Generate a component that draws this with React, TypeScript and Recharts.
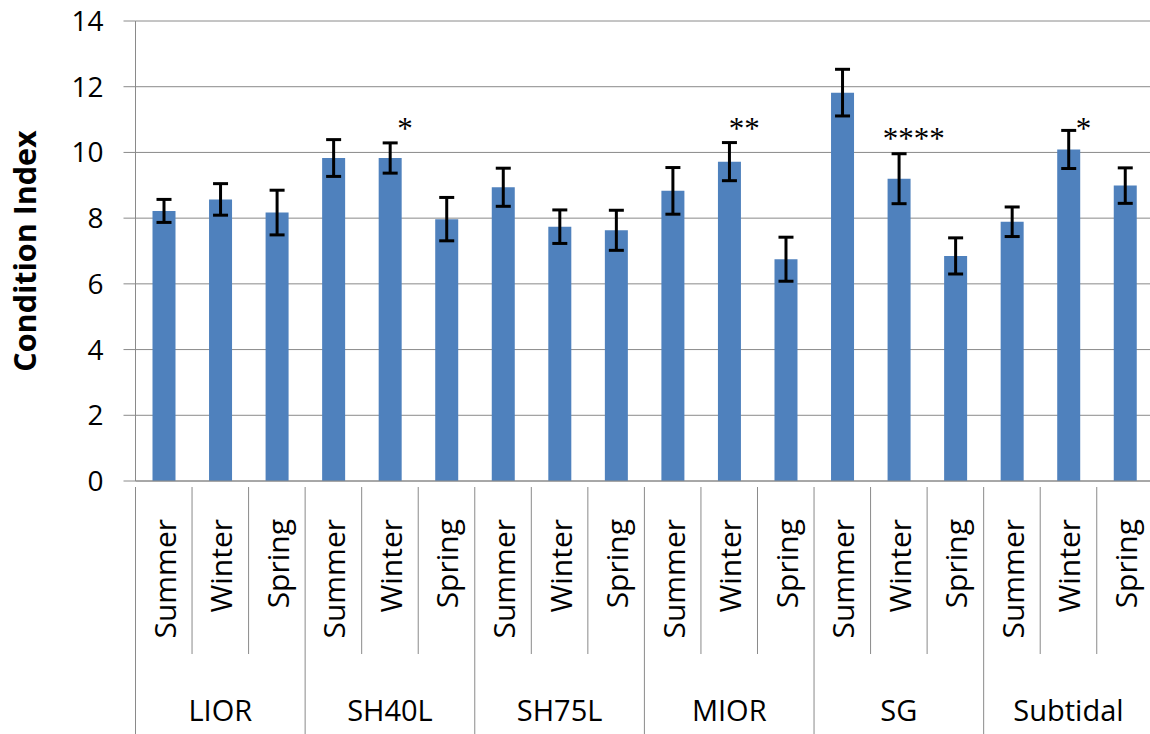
import React from "react";
import {
  ComposedChart,
  Bar,
  ErrorBar,
  Scatter,
  XAxis,
  YAxis,
  CartesianGrid,
  Label,
} from "recharts";

const sites = ["LIOR", "SH40L", "SH75L", "MIOR", "SG", "Subtidal"];
const seasons = ["Summer", "Winter", "Spring"];
const means = [
  8.22, 8.57, 8.17, 9.83, 9.83, 7.97, 8.94, 7.74, 7.63, 8.83, 9.72, 6.75,
  11.82, 9.2, 6.85, 7.89, 10.09, 8.99,
];
const errors = [
  0.35, 0.48, 0.68, 0.56, 0.46, 0.66, 0.58, 0.51, 0.61, 0.71, 0.58, 0.67,
  0.71, 0.76, 0.55, 0.45, 0.58, 0.54,
];
const stars = ["", "", "", "", "*", "", "", "", "", "", "**", "", "", "****", "", "", "*", ""];
const starLevels = [
  null, null, null, null, 10.83, null, null, null, null, null, 10.83, null,
  null, 10.53, null, null, 10.83, null,
];
const yTicks = [0, 2, 4, 6, 8, 10, 12, 14];

const data = means.map((m, i) => ({
  key: String(i),
  season: seasons[i % 3],
  site: sites[Math.floor(i / 3)],
  mean: m,
  err: errors[i],
  star: stars[i],
  starY: starLevels[i],
}));

const W = 1160;
const H = 734;
const AXIS_W = 135.5;
const RIGHT = 6.7;
const BW = (W - AXIS_W - RIGHT) / means.length;
const GRID = "#8a8a8a";

function SeasonTick(props: any) {
  const { x, y, payload } = props;
  const i = Number(payload.value);
  const left = x - BW / 2;
  const groupStart = i % 3 === 0;
  return (
    <g>
      <line x1={left} x2={left} y1={y} y2={groupStart ? H : y + 167} stroke={GRID} />
      {i === means.length - 1 && (
        <line x1={x + BW / 2} x2={x + BW / 2} y1={y} y2={H} stroke={GRID} />
      )}
      <text
        transform={`translate(${x + 12}, ${y + 32}) rotate(-90)`}
        textAnchor="end"
        fontSize={30}
        fill="#000"
      >
        {seasons[i % 3]}
      </text>
      {i % 3 === 1 && (
        <text x={x} y={y + 234} textAnchor="middle" fontSize={29} fill="#000">
          {sites[Math.floor(i / 3)]}
        </text>
      )}
    </g>
  );
}

function StarShape(props: any) {
  const { cx, cy, payload } = props;
  if (!payload || !payload.star || !Number.isFinite(cy)) return <g />;
  return (
    <text
      x={cx + 15}
      y={cy + 14}
      textAnchor="middle"
      fontFamily="'Liberation Serif', serif"
      fontSize={31}
      fill="#000"
    >
      {payload.star}
    </text>
  );
}

function YTitle(props: any) {
  const vb = props.viewBox || {};
  const cy = (vb.y ?? 21) + (vb.height ?? 460) / 2;
  return (
    <text
      transform={`translate(24, ${cy}) rotate(-90)`}
      textAnchor="middle"
      dominantBaseline="central"
      fontSize={30.5}
      fontWeight="bold"
      fill="#000"
    >
      Condition Index
    </text>
  );
}

export default function App() {
  return (
    <div
      style={{
        width: 1150,
        height: H,
        overflow: "hidden",
        background: "#fff",
        fontFamily: "'Open Sans', sans-serif",
      }}
    >
      <style>{`body{margin:0}`}</style>
      <ComposedChart
        width={W}
        height={H}
        data={data}
        margin={{ top: 21, right: RIGHT, left: 0, bottom: 0 }}
      >
        <CartesianGrid vertical={false} stroke={GRID} />
        <XAxis
          dataKey="key"
          type="category"
          height={253}
          interval={0}
          tickLine={false}
          tickMargin={0}
          axisLine={{ stroke: GRID }}
          tick={<SeasonTick />}
        />
        <YAxis
          width={AXIS_W}
          domain={[0, 14]}
          ticks={yTicks}
          interval={0}
          axisLine={{ stroke: GRID }}
          tickLine={{ stroke: GRID }}
          tickSize={12}
          tickMargin={20}
          tick={{ fill: "#000", fontSize: 28 }}
        >
          <Label content={<YTitle />} />
        </YAxis>
        <Bar dataKey="mean" fill="#4F81BD" barSize={23} isAnimationActive={false}>
          <ErrorBar
            dataKey="err"
            direction="y"
            width={7.5}
            strokeWidth={3}
            stroke="#000"
            isAnimationActive={false}
          />
        </Bar>
        <Scatter dataKey="starY" shape={<StarShape />} isAnimationActive={false} />
      </ComposedChart>
    </div>
  );
}
